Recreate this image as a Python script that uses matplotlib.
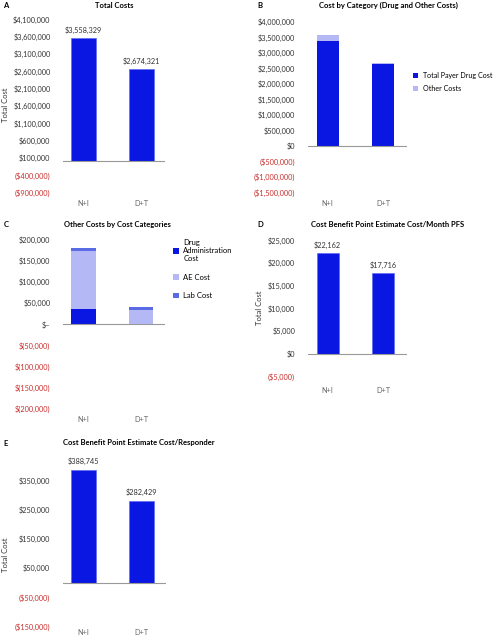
import matplotlib.pyplot as plt

plt.rcParams['font.family'] = ['Lato', 'DejaVu Sans']

# data
arms = ["N+I", "D+T"]
total_costs = [3558329, 2674321]
drug_costs = [3377500, 2634200]
other_costs = [180829, 40121]
drug_admin_costs = [36000, 0]
ae_costs = [137000, 33700]
lab_costs = [7829, 6421]
cost_per_month_pfs = [22162, 17716]
cost_per_responder = [388745, 282429]

ticks_a = list(range(-900000, 4100001, 500000))
ticks_b = list(range(-1500000, 4000001, 500000))
ticks_c = list(range(-200000, 200001, 50000))
ticks_d = list(range(-5000, 25001, 5000))
ticks_e = list(range(-150000, 350001, 100000))

BLUE = "#0a16e2"
LIGHT = "#b4b9f6"
LAB = "#5a6be6"
RED = "#c8302e"
TXT = "#333333"
GREY = "#666666"

W, H = 494, 638
fig = plt.figure(figsize=(W / 100, H / 100), dpi=100)


def money(v):
    if v < 0:
        return "(${:,.0f})".format(-v)
    return "${:,.0f}".format(v)


def acct(v):
    if v == 0:
        return "$\u2013"
    if v < 0:
        return "$({:,.0f})".format(-v)
    return "${:,.0f}".format(v)


def make_axes(x0, x1, top, bottom, c0, c1, base, scale):
    # pixel box -> axes, with data limits mapped from pixels
    ax = fig.add_axes([x0 / W, 1 - bottom / H, (x1 - x0) / W, (bottom - top) / H])
    unit = c1 - c0
    ax.set_xlim(-(c0 - x0) / unit, 1 + (x1 - c1) / unit)
    ax.set_ylim((base - bottom) / scale, (base - top) / scale)
    for s in ax.spines.values():
        s.set_visible(False)
    ax.axhline(0, color="#999999", lw=0.8, zorder=3)
    ax.set_xticks([0, 1], arms)
    ax.tick_params(axis="x", length=0, pad=1, labelsize=5.3, labelcolor=GREY)
    ax.tick_params(axis="y", length=0, pad=9, labelsize=5.3)
    return ax


def set_yticks(ax, ticks, fmt):
    ax.set_yticks(ticks, [fmt(t) for t in ticks])
    for t, lab in zip(ticks, ax.get_yticklabels()):
        lab.set_color(RED if t < 0 else TXT)


def value_labels(ax, vals, off):
    for i, v in enumerate(vals):
        ax.annotate("${:,.0f}".format(v), (i, v), xytext=(0, off), textcoords="offset points",
                    ha="center", va="bottom", fontsize=5.3, color=TXT)


def heading(x, y, letter, title, tx):
    fig.text(x / W, 1 - y / H, letter, fontsize=5.5, fontweight="bold", va="center", ha="center")
    fig.text(tx / W, 1 - y / H, title, fontsize=5.5, fontweight="bold", va="center", ha="center")


def ylab(x, y):
    fig.text(x / W, 1 - y / H, "Total Cost", rotation=90, fontsize=5.5, color=TXT,
             va="center", ha="center")


# A: total costs
ax = make_axes(63, 165, 12, 198.5, 83.5, 141.2, 161.3, 17.3 / 500000)
ax.bar([0, 1], total_costs, width=0.43, color=BLUE, edgecolor="#5f6df0", lw=0.5)
set_yticks(ax, ticks_a, money)
value_labels(ax, total_costs, 3)
heading(6, 5, "A", "Total Costs", 114)
ylab(5, 105)

# B: drug vs other
ax = make_axes(307.7, 406.7, 12, 198.5, 327.7, 383.3, 145.7, 31 / 1000000)
ax.bar([0, 1], drug_costs, width=0.4, color=BLUE, label="Total Payer Drug Cost")
ax.bar([0, 1], other_costs, width=0.4, bottom=drug_costs, color=LIGHT, label="Other Costs")
set_yticks(ax, ticks_b, money)
heading(260, 5, "B", "Cost by Category (Drug and Other Costs)", 388)
ax.legend(loc="upper left", bbox_to_anchor=(413 / W, 1 - 72 / H), bbox_transform=fig.transFigure,
          frameon=False, fontsize=5.1, handlelength=0.75, handleheight=0.75, handletextpad=0.6,
          labelspacing=0.85, borderaxespad=0, borderpad=0)

# C: other cost categories
ax = make_axes(63, 165, 232, 415, 83.3, 141, 324.3, 21.2 / 50000)
ax.bar([0, 1], drug_admin_costs, width=0.43, color=BLUE, label="Drug\nAdministration\nCost")
ax.bar([0, 1], ae_costs, width=0.43, bottom=drug_admin_costs, color=LIGHT, label="AE Cost")
base2 = [d + a for d, a in zip(drug_admin_costs, ae_costs)]
ax.bar([0, 1], lab_costs, width=0.43, bottom=base2, color=LAB, label="Lab Cost")
set_yticks(ax, ticks_c, acct)
heading(6, 224, "C", "Other Costs by Cost Categories", 117)
ax.legend(loc="upper left", bbox_to_anchor=(173 / W, 1 - 239 / H), bbox_transform=fig.transFigure,
          frameon=False, fontsize=5.5, handlelength=0.75, handleheight=0.75, handletextpad=0.6,
          labelspacing=1.5, borderaxespad=0, borderpad=0)

# D: cost per month PFS
ax = make_axes(307.7, 406.7, 232, 385.5, 327.7, 383, 353.8, 22.7 / 5000)
ax.bar([0, 1], cost_per_month_pfs, width=0.4, color=BLUE, edgecolor="#5f6df0", lw=0.5)
set_yticks(ax, ticks_d, money)
value_labels(ax, cost_per_month_pfs, 3)
heading(260, 224, "D", "Cost Benefit Point Estimate Cost/Month PFS", 388)
ylab(260, 308)

# E: cost per responder
ax = make_axes(62.7, 165.7, 450, 628, 83.3, 141.2, 582.7, 29.1 / 100000)
ax.bar([0, 1], cost_per_responder, width=0.43, color=BLUE, edgecolor="#5f6df0", lw=0.5)
set_yticks(ax, ticks_e, money)
value_labels(ax, cost_per_responder, 3)
heading(6, 443, "E", "Cost Benefit Point Estimate Cost/Responder", 139)
ylab(5, 555)

fig.savefig("out.png", dpi=100)
